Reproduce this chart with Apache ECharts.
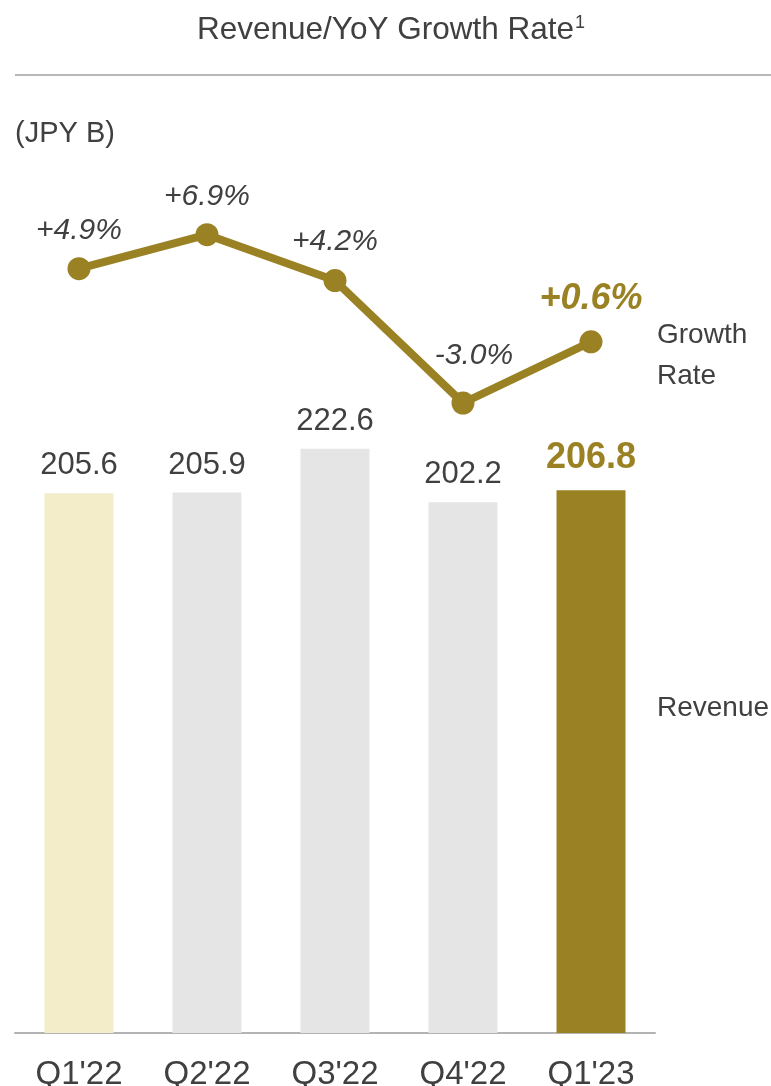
<!DOCTYPE html>
<html>
<head>
<meta charset="utf-8">
<script src="https://cdn.jsdelivr.net/npm/echarts@6/dist/echarts.min.js"></script>
<style>
html,body{margin:0;padding:0;background:#fff;}
#chart{width:771px;height:1086px;}
</style>
</head>
<body>
<div id="chart"></div>
<script>
const categories = ["Q1'22", "Q2'22", "Q3'22", "Q4'22", "Q1'23"];
const revenue = [205.6, 205.9, 222.6, 202.2, 206.8];
const growthRate = [4.9, 6.9, 4.2, -3.0, 0.6];

const GOLD = '#9a8224';
const CREAM = '#f3edc9';
const GRAY = '#e5e5e5';
const TEXT = '#404040';
const FONT = '"Liberation Sans", Arial, sans-serif';

const barColors = categories.map((c, i) => i === 0 ? CREAM : (i === categories.length - 1 ? GOLD : GRAY));
const last = categories.length - 1;

const chart = echarts.init(document.getElementById('chart'), null, {renderer: 'canvas'});
chart.setOption({
  animation: false,
  backgroundColor: '#fff',
  textStyle: {fontFamily: FONT},
  title: {
    text: '{t|Revenue/YoY Growth Rate}{s|1}',
    left: 197, top: 14, padding: 0,
    textStyle: {
      fontWeight: 'normal',
      rich: {
        t: {fontFamily: FONT, fontSize: 31.5, fontWeight: 'normal', color: TEXT},
        s: {fontFamily: FONT, fontSize: 18, fontWeight: 'normal', color: TEXT, verticalAlign: 'top', padding: [0, 0, 12, 1]}
      }
    }
  },
  graphic: [
    {type: 'line', shape: {x1: 15, y1: 75, x2: 771, y2: 75}, style: {stroke: '#b8b8b8', lineWidth: 2}},
    {type: 'text', x: 15, y: 134, style: {text: '(JPY B)', font: '29px ' + FONT, fill: TEXT, verticalAlign: 'middle'}},
    {type: 'text', x: 657, y: 335, style: {text: 'Growth', font: '28px ' + FONT, fill: TEXT, verticalAlign: 'middle'}},
    {type: 'text', x: 657, y: 376, style: {text: 'Rate', font: '28px ' + FONT, fill: TEXT, verticalAlign: 'middle'}},
    {type: 'text', x: 657, y: 708, style: {text: 'Revenue', font: '28px ' + FONT, fill: TEXT, verticalAlign: 'middle'}}
  ],
  grid: [
    {left: 15, width: 640, top: 403, bottom: 53, outerBoundsMode: 'none', containLabel: false},
    {left: 15, width: 640, top: 216, height: 204, outerBoundsMode: 'none', containLabel: false}
  ],
  xAxis: [
    {
      type: 'category', data: categories, gridIndex: 0,
      axisLine: {show: true, lineStyle: {color: '#b3b3b3', width: 2}},
      axisTick: {show: false},
      axisLabel: {fontFamily: FONT, fontSize: 33, color: TEXT, margin: 25}
    },
    {
      type: 'category', data: categories, gridIndex: 1, show: false
    }
  ],
  yAxis: [
    {type: 'value', gridIndex: 0, min: 0, max: 240, show: false, splitLine: {show: false}},
    {type: 'value', gridIndex: 1, min: -4, max: 8, show: false, splitLine: {show: false}}
  ],
  series: [
    {
      type: 'bar', xAxisIndex: 0, yAxisIndex: 0,
      barWidth: 69,
      data: revenue.map((v, i) => ({
        value: v,
        itemStyle: {color: barColors[i]},
        label: i === last ? {fontSize: 36, fontWeight: 'bold', color: GOLD, distance: 14} : {}
      })),
      label: {
        show: true, position: 'top', distance: 12,
        fontFamily: FONT, fontSize: 31, color: TEXT,
        formatter: p => p.value.toFixed(1)
      }
    },
    {
      type: 'line', xAxisIndex: 1, yAxisIndex: 1,
      symbol: 'circle', symbolSize: 23,
      lineStyle: {color: GOLD, width: 8},
      itemStyle: {color: GOLD},
      data: growthRate.map((v, i) => {
        if (i === 3) return {value: v, label: {offset: [11, -9]}};
        if (i === last) return {value: v, label: {fontSize: 36, fontWeight: 'bold', color: GOLD, distance: 13}};
        return v;
      }),
      label: {
        show: true, position: 'top', distance: 12,
        fontFamily: FONT, fontSize: 30, fontStyle: 'italic', color: TEXT,
        formatter: p => (p.value > 0 ? '+' : '') + p.value.toFixed(1) + '%'
      }
    }
  ]
});
</script>
</body>
</html>
